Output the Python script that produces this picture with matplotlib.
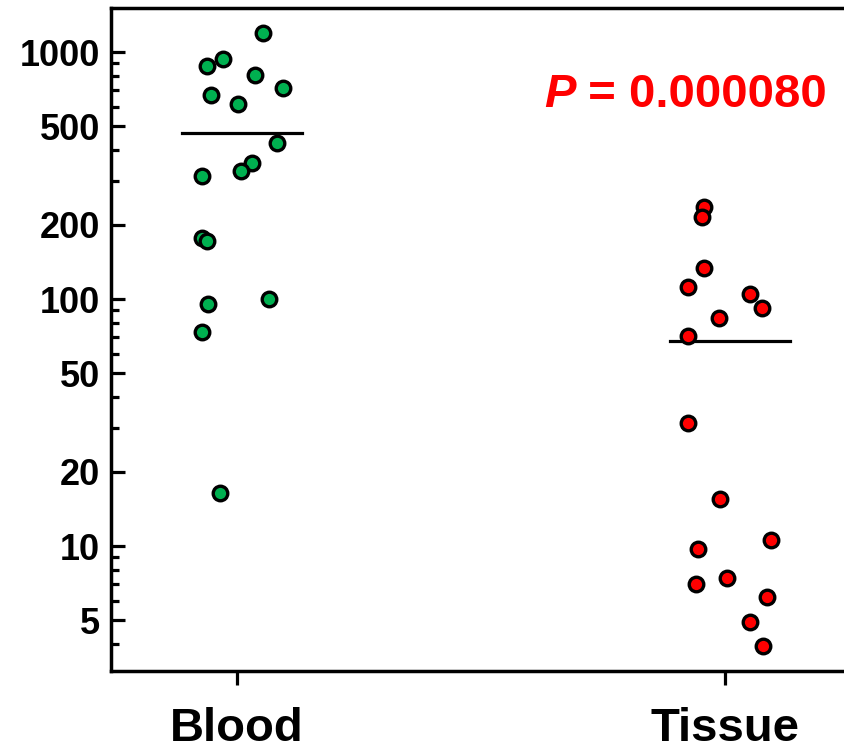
import numpy as np
import matplotlib
matplotlib.use("Agg")
import matplotlib.pyplot as plt
from matplotlib.ticker import FixedLocator, NullFormatter

# Data
groups = ["Blood", "Tissue"]
blood_x = [1.053, 0.938, 0.972, 1.036, 1.094, 0.947, 1.003, 1.082, 1.031, 1.009,
           0.928, 0.928, 0.938, 0.940, 1.066, 0.928, 0.966]
blood_y = [1190, 880, 937, 809, 714, 670, 616, 430, 357, 331,
           315, 176, 171, 95.4, 100, 73.3, 16.4]
tissue_x = [1.957, 1.953, 1.958, 1.925, 2.051, 2.076, 1.988, 1.925,
            1.925, 1.990, 2.094, 1.944, 2.004, 1.941, 2.086, 2.051, 2.078]
tissue_y = [236, 214, 134, 112, 105, 91.7, 84, 70.8,
            31.4, 15.5, 10.6, 9.75, 7.42, 7.0, 6.24, 4.92, 3.94]
medians = [470, 67.6]
p_text = "= 0.000080"

major_ticks = [5, 10, 20, 50, 100, 200, 500, 1000]
minor_ticks = [4, 6, 7, 8, 9, 30, 40, 60, 70, 80, 90, 300, 400, 600, 700, 800, 900]

plt.rcParams['font.family'] = ['Liberation Sans', 'DejaVu Sans']
plt.rcParams['font.weight'] = 'bold'

fig = plt.figure(figsize=(8.45, 7.51), dpi=100)
ax = fig.add_axes([0.1314, 0.1065, 0.8686, 0.8828])

ax.scatter(blood_x, blood_y, s=110, c='#00B050', edgecolors='black', linewidths=2.4, zorder=3)
ax.scatter(tissue_x, tissue_y, s=110, c='#FF0000', edgecolors='black', linewidths=2.4, zorder=3)

# median lines
for i, m in enumerate(medians):
    ax.plot([i + 1 - 0.113, i + 1 + 0.133], [m, m], color='black', lw=2.3, zorder=2)

ax.set_yscale('log')
ax.set_ylim(3.12, 1507)
ax.set_xlim(0.742, 2.246)

ax.yaxis.set_major_locator(FixedLocator(major_ticks))
ax.yaxis.set_minor_locator(FixedLocator(minor_ticks))
ax.yaxis.set_minor_formatter(NullFormatter())
ax.set_yticklabels([str(t) for t in major_ticks])
ax.set_xticks([1, 2])
ax.set_xticklabels(groups)

ax.tick_params(axis='y', which='major', direction='in', length=10, width=2.3,
               labelsize=26, pad=8)
ax.tick_params(axis='y', which='minor', direction='in', length=6, width=2.3)
ax.tick_params(axis='x', which='major', direction='out', length=10, width=2.3,
               labelsize=34, pad=16)
for lbl in ax.get_xticklabels() + ax.get_yticklabels():
    lbl.set_fontweight('bold')

ax.spines['right'].set_visible(False)
for s in ['left', 'top', 'bottom']:
    ax.spines[s].set_linewidth(2.5)

t = ax.text(0.9755, 0.851, " " + p_text, transform=ax.transAxes, color='red',
            fontsize=34, fontweight='bold', ha='right', va='baseline')
ax.annotate("P", xy=(0, 0), xycoords=t, ha='right', va='bottom', color='red',
            fontsize=34, fontweight='bold', fontstyle='italic')

fig.savefig("out.png", dpi=100)
